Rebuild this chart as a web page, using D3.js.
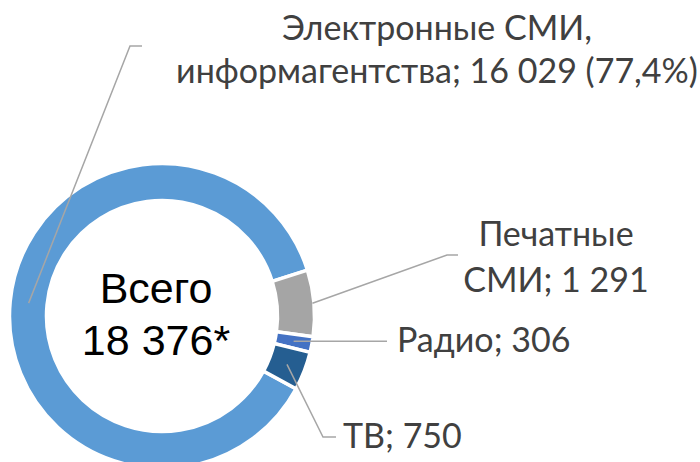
<!DOCTYPE html>
<html>
<head>
<meta charset="utf-8">
<script src="https://cdn.jsdelivr.net/npm/d3@7/dist/d3.min.js"></script>
<style>
  html, body { margin: 0; padding: 0; background: #fff; }
  svg { display: block; }
</style>
</head>
<body>
<svg id="chart" width="700" height="462"></svg>
<script>
// ---- data ----
const categories = ["Электронные СМИ, информагентства", "Печатные СМИ", "Радио", "ТВ"];
const values = [16029, 1291, 306, 750];
const colors = ["#5B9BD5", "#A5A5A5", "#4472C4", "#255E91"];
const labelLines = [
  ["Электронные СМИ,", "информагентства; 16 029 (77,4%)"],
  ["Печатные", "СМИ; 1 291"],
  ["Радио; 306"],
  ["ТВ; 750"]
];
const centerLines = ["Всего", "18 376*"];

// ---- layout ----
const W = 700, H = 462;
const cx = 162, cy = 316;
const outerR = 152.5, innerR = 115.5;
const deg = Math.PI / 180;
const start = -241.5 * deg;

const svg = d3.select("#chart");
const g = svg.append("g").attr("transform", `translate(${cx},${cy})`);

const pie = d3.pie().sort(null).value(d => d).startAngle(start).endAngle(start + 2 * Math.PI);
const arcs = pie(values);
const arc = d3.arc().innerRadius(innerR).outerRadius(outerR);

g.selectAll("path.slice")
  .data(arcs)
  .join("path")
  .attr("class", "slice")
  .attr("d", arc)
  .attr("fill", (d, i) => colors[i])
  .attr("stroke", "#fff")
  .attr("stroke-width", 3.5)
  .attr("stroke-linejoin", "miter");

// leader lines: start on slice at its mid angle
const leaderR = [134, 151, 134, 134];
const leaderPath = [
  [[130, 46], [142, 46]],
  [[447, 255], [458, 255]],
  null,
  [[323, 437], [336, 437]]
];
const line = d3.line();
arcs.forEach((a, i) => {
  const m = (a.startAngle + a.endAngle) / 2;
  const sx = cx + leaderR[i] * Math.sin(m);
  const sy = cy - leaderR[i] * Math.cos(m);
  let pts;
  if (leaderPath[i]) pts = [[sx, sy]].concat(leaderPath[i]);
  else pts = [[sx, sy], [387, sy]];
  svg.append("path")
    .attr("d", line(pts))
    .attr("fill", "none")
    .attr("stroke", "#A6A6A6")
    .attr("stroke-width", 1.5);
});

// labels
const labelFont = "Lato, 'Open Sans', sans-serif";
const labelSize = 34;
const labelPos = [
  { x: 437, y: [40, 83], anchor: "middle" },
  { x: 556, y: [246, 292], anchor: "middle" },
  { x: 397, y: [352], anchor: "start" },
  { x: 343, y: [448], anchor: "start" }
];
labelLines.forEach((lines, i) => {
  const p = labelPos[i];
  const t = svg.append("text")
    .attr("font-family", labelFont)
    .attr("font-size", labelSize)
    .attr("fill", "#404040")
    .attr("text-anchor", p.anchor);
  lines.forEach((s, j) => {
    t.append("tspan").attr("x", p.x).attr("y", p.y[j]).text(s);
  });
});

// center text
const ct = svg.append("text")
  .attr("font-family", "'Liberation Sans', Arial, sans-serif")
  .attr("font-size", 43)
  .attr("fill", "#000")
  .attr("text-anchor", "middle");
centerLines.forEach((s, j) => {
  ct.append("tspan").attr("x", 156).attr("y", [303, 355][j]).text(s);
});
</script>
</body>
</html>
